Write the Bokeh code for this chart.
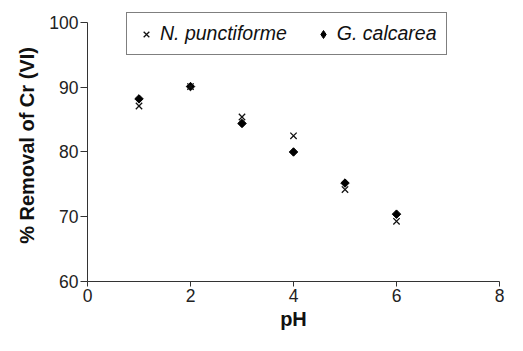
import math
from bokeh.plotting import figure
from bokeh.models import Legend, LegendItem, Range1d, FixedTicker
from bokeh.embed import file_html
from bokeh.resources import INLINE

ph = [1, 2, 3, 4, 5, 6]
n_punctiforme = [87.1, 90.1, 85.4, 82.5, 74.2, 69.3]
g_calcarea = [88.2, 90.1, 84.4, 80.0, 75.2, 70.4]
x_ticks = [0, 2, 4, 6, 8]
y_ticks = [60, 70, 80, 90, 100]

FONT = "Liberation Sans"

# y range runs a little past 100 so the legend box (which sits above the 100 tick) stays inside the frame
p = figure(width=507, height=335, output_backend="svg", toolbar_location=None,
           x_range=Range1d(0, 8), y_range=Range1d(60, 102),
           min_border_left=87, min_border_right=8, min_border_top=9, min_border_bottom=54)
p.outline_line_color = None
p.xgrid.grid_line_color = None
p.ygrid.grid_line_color = None
p.background_fill_color = "white"
p.border_fill_color = "white"

# legend key (diamond) drawn beneath the rotated squares
r2_key = p.scatter(ph, g_calcarea, marker="diamond", size=7, fill_color="black", line_color="black")
r2 = p.scatter(ph, g_calcarea, marker="square", angle=math.pi / 4, size=6,
               fill_color="black", line_color="black", line_width=1)
r1 = p.scatter(ph, n_punctiforme, marker="x", size=9, line_color="#111111", line_width=1.3)

for ax in (p.xaxis[0], p.yaxis[0]):
    ax.axis_line_color = "#333333"
    ax.major_tick_line_color = "#333333"
    ax.minor_tick_line_color = None
    ax.major_tick_in = 0
    ax.major_label_text_font = FONT
    ax.major_label_text_font_size = "17.5px"
    ax.major_label_text_color = "#222222"
    ax.axis_label_text_font = FONT
    ax.axis_label_text_font_style = "bold"
    ax.axis_label_text_font_size = "20px"
    ax.axis_label_text_color = "#111111"

p.yaxis.bounds = (60, 100)
p.xaxis.ticker = FixedTicker(ticks=x_ticks)
p.yaxis.ticker = FixedTicker(ticks=y_ticks)
p.xaxis.major_tick_out = 5
p.yaxis.major_tick_out = 7
p.xaxis.major_label_standoff = 2
p.yaxis.major_label_standoff = 2
p.xaxis.axis_label = "pH"
p.yaxis.axis_label = "% Removal of Cr (VI)"
p.xaxis.axis_label_standoff = 3
p.yaxis.axis_label_standoff = 8

legend = Legend(items=[LegendItem(label="N. punctiforme", renderers=[r1]),
                       LegendItem(label="G. calcarea", renderers=[r2_key])],
                orientation="horizontal", location=(39, 226), margin=0,
                padding=9, spacing=26, glyph_width=20, glyph_height=20,
                label_standoff=4, label_text_font=FONT, label_text_font_style="italic",
                label_text_font_size="19.5px", label_text_color="#111111",
                border_line_color="black", border_line_width=1,
                background_fill_color="white", background_fill_alpha=1)
p.add_layout(legend, "center")

open("out.html", "w").write(file_html(p, INLINE))
